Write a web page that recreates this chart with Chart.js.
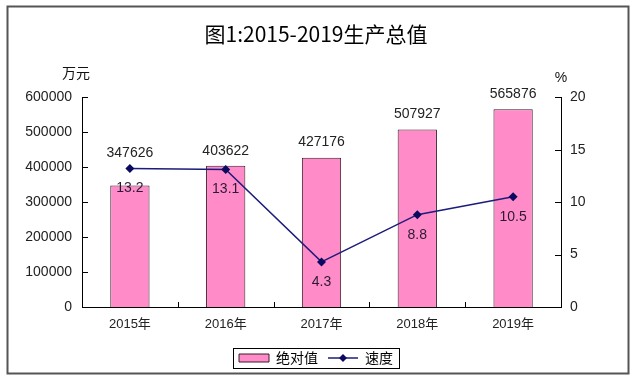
<!DOCTYPE html>
<html>
<head>
<meta charset="utf-8">
<script src="https://cdn.jsdelivr.net/npm/chart.js@4"></script>
<style>
  html, body { margin: 0; padding: 0; background: #fff; }
  #wrap { width: 640px; height: 386px; }
</style>
</head>
<body>
<div id="wrap"><canvas id="gdpChart" width="640" height="386"></canvas></div>
<script>
// chart data
const years = ['2015年', '2016年', '2017年', '2018年', '2019年'];
const totalValues = [347626, 403622, 427176, 507927, 565876];
const growthRates = [13.2, 13.1, 4.3, 8.8, 10.5];
const leftAxisMax = 600000;
const leftAxisStep = 100000;
const rightAxisMax = 20;
const rightAxisStep = 5;

const PINK = '#ff8cc8';
const NAVY = '#1c1c7a';
const FONT = '"Liberation Sans", "Noto Sans CJK SC", sans-serif';

// legend icon for the line series: short line with a diamond
const lineIcon = document.createElement('canvas');
lineIcon.width = 30;
lineIcon.height = 10;
(function() {
    const c = lineIcon.getContext('2d');
    c.strokeStyle = NAVY;
    c.lineWidth = 1.5;
    c.beginPath();
    c.moveTo(0, 5);
    c.lineTo(30, 5);
    c.stroke();
    c.fillStyle = '#0a0a60';
    c.beginPath();
    c.moveTo(15, 1);
    c.lineTo(19, 5);
    c.lineTo(15, 9);
    c.lineTo(11, 5);
    c.closePath();
    c.fill();
})();

// white background + outer frame
const framePlugin = {
    id: 'frame',
    beforeDraw(chart) {
        const ctx = chart.ctx;
        ctx.save();
        ctx.fillStyle = '#fff';
        ctx.fillRect(0, 0, chart.width, chart.height);
        ctx.strokeStyle = '#555';
        ctx.lineWidth = 2;
        ctx.strokeRect(7.5, 6.5, chart.width - 19, chart.height - 19);
        ctx.restore();
    }
};

// inward tick marks + unit labels + legend border
const axisExtras = {
    id: 'axisExtras',
    afterDraw(chart) {
        const ctx = chart.ctx;
        const area = chart.chartArea;
        const y = chart.scales.y;
        const y1 = chart.scales.y1;
        const x = chart.scales.x;
        ctx.save();
        ctx.strokeStyle = '#000';
        ctx.lineWidth = 1;
        ctx.beginPath();
        y.ticks.forEach(t => {
            const py = Math.round(y.getPixelForValue(t.value)) + 0.5;
            ctx.moveTo(area.left, py);
            ctx.lineTo(area.left + 6, py);
        });
        y1.ticks.forEach(t => {
            const py = Math.round(y1.getPixelForValue(t.value)) + 0.5;
            ctx.moveTo(area.right - 6, py);
            ctx.lineTo(area.right, py);
        });
        for (let i = 0; i <= years.length; i++) {
            const px = Math.round(x.getPixelForValue(i - 0.5)) + 0.5;
            ctx.moveTo(px, area.bottom);
            ctx.lineTo(px, area.bottom - 5);
        }
        ctx.stroke();

        // units
        ctx.fillStyle = '#111';
        ctx.font = '14px "Noto Sans CJK SC", sans-serif';
        ctx.textAlign = 'center';
        ctx.textBaseline = 'middle';
        ctx.fillText('万元', 76, area.top - 25);
        ctx.font = '14px ' + FONT;
        ctx.fillText('%', area.right, area.top - 19);

        // legend border
        const boxes = chart.legend.legendHitBoxes;
        if (boxes && boxes.length) {
            let l = Infinity, t = Infinity, r = -Infinity, b = -Infinity;
            boxes.forEach(h => {
                l = Math.min(l, h.left);
                t = Math.min(t, h.top);
                r = Math.max(r, h.left + h.width);
                b = Math.max(b, h.top + h.height);
            });
            ctx.strokeStyle = '#000';
            ctx.strokeRect(Math.round(l - 6) + 0.5, Math.round(t - 3) + 0.5,
                Math.round(r - l + 12), Math.round(b - t + 6));
        }
        ctx.restore();
    }
};

// value labels on bars and points
const valueLabels = {
    id: 'valueLabels',
    afterDatasetsDraw(chart) {
        const ctx = chart.ctx;
        const bars = chart.getDatasetMeta(0).data;
        const pts = chart.getDatasetMeta(1).data;
        ctx.save();
        ctx.font = '14px ' + FONT;
        ctx.textAlign = 'center';
        ctx.textBaseline = 'middle';
        bars.forEach((bar, i) => {
            const top = Math.min(bar.y, pts[i].y);
            ctx.fillStyle = '#222';
            ctx.fillText(String(totalValues[i]), bar.x, top - 15);
        });
        pts.forEach((p, i) => {
            ctx.fillStyle = '#2a1a35';
            ctx.fillText(growthRates[i].toFixed(1), p.x, p.y + 20);
        });
        ctx.restore();
    }
};

new Chart(document.getElementById('gdpChart'), {
    data: {
        labels: years,
        datasets: [{
            type: 'bar',
            label: '绝对值',
            data: totalValues,
            yAxisID: 'y',
            backgroundColor: PINK,
            borderColor: '#3a1a2a',
            borderWidth: 1,
            barPercentage: 0.41,
            categoryPercentage: 1,
            order: 1
        }, {
            type: 'line',
            label: '速度',
            data: growthRates,
            yAxisID: 'y1',
            borderColor: NAVY,
            backgroundColor: '#0a0a60',
            borderWidth: 1.5,
            pointStyle: 'rectRot',
            pointRadius: 4.5,
            pointBorderWidth: 0,
            tension: 0,
            order: 0
        }]
    },
    options: {
        responsive: false,
        animation: false,
        layout: {
            padding: { left: 0, right: 8, top: 0, bottom: 11 }
        },
        plugins: {
            title: {
                display: true,
                text: '图1:2015-2019生产总值',
                color: '#000',
                font: { family: '"Noto Sans CJK SC", sans-serif', size: 21, weight: 'normal' },
                padding: { top: 21, bottom: 51 }
            },
            legend: {
                position: 'bottom',
                labels: {
                    usePointStyle: true,
                    pointStyleWidth: 30,
                    boxWidth: 30,
                    boxHeight: 8,
                    padding: 10,
                    color: '#000',
                    font: { family: '"Noto Sans CJK SC", sans-serif', size: 14 },
                    sort: (a, b) => a.datasetIndex - b.datasetIndex,
                    generateLabels(chart) {
                        const items = Chart.defaults.plugins.legend.labels.generateLabels(chart);
                        items.forEach(item => {
                            item.pointStyle = item.datasetIndex === 0 ? 'rect' : lineIcon;
                        });
                        return items;
                    }
                }
            },
            tooltip: { enabled: false }
        },
        scales: {
            x: {
                grid: { display: false, drawTicks: false },
                border: { display: true, color: '#000', width: 1 },
                ticks: { color: '#222', font: { family: FONT, size: 13 }, padding: 10 },
                afterFit(s) { s.height = 34; }
            },
            y: {
                position: 'left',
                min: 0,
                max: leftAxisMax,
                grid: { display: false, drawTicks: false },
                border: { display: true, color: '#000', width: 1 },
                ticks: {
                    stepSize: leftAxisStep,
                    color: '#222',
                    font: { family: FONT, size: 14 },
                    padding: 10,
                    callback: v => String(v)
                },
                afterFit(s) { s.width = 82; }
            },
            y1: {
                position: 'right',
                min: 0,
                max: rightAxisMax,
                grid: { display: false, drawTicks: false },
                border: { display: true, color: '#000', width: 1 },
                ticks: {
                    stepSize: rightAxisStep,
                    color: '#222',
                    font: { family: FONT, size: 14 },
                    padding: 9,
                    callback: v => String(v)
                },
                afterFit(s) { s.width = 71; }
            }
        }
    },
    plugins: [framePlugin, axisExtras, valueLabels]
});
</script>
</body>
</html>
